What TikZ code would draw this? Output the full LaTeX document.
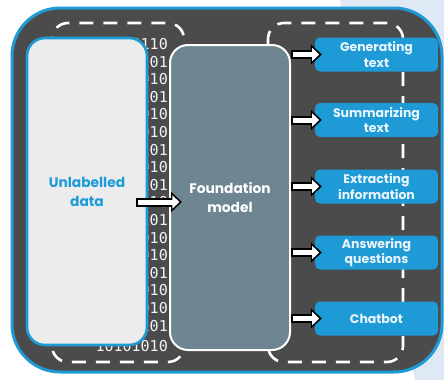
\documentclass[tikz,border=0pt]{standalone}
\usepackage{fontspec}
\setmainfont{Poppins}
\newfontfamily\digitfont{DejaVu Sans Mono}
\usetikzlibrary{arrows.meta}

\definecolor{panel}{HTML}{4B4B4B}
\definecolor{accent}{HTML}{1E9AD6}
\definecolor{paper}{HTML}{ECECEC}
\definecolor{slate}{HTML}{6E8592}
\definecolor{haze}{HTML}{DEE9F5}
\definecolor{tasktext}{HTML}{EAF5FC}
\definecolor{digit}{HTML}{F2F2F2}

\begin{document}
\begin{tikzpicture}[x=1pt,y=-1pt,
  dashframe/.style={draw=white, line width=2.6pt, dash pattern=on 14pt off 10pt, rounded corners=16pt},
  bits/.style={anchor=east, inner sep=0pt, text=digit, font=\digitfont\fontsize{15}{15}\selectfont},
  databox/.style={draw=accent, fill=paper, line width=2.6pt, rounded corners=18pt,
    minimum width=120pt, minimum height=307pt, text=accent, align=center,
    font=\bfseries\fontsize{13.8}{19}\selectfont},
  modelbox/.style={draw=white, fill=slate, line width=2pt, rounded corners=18pt,
    minimum width=120pt, minimum height=305pt, text=white, align=center,
    font=\bfseries\fontsize{13.8}{19}\selectfont},
  taskbox/.style={fill=accent, rounded corners=5pt, minimum width=123pt, minimum height=34pt,
    inner sep=0pt, text=tasktext, align=center, font=\bfseries\fontsize{12.5}{15.5}\selectfont},
  arrout/.style={draw=black, line width=9pt, -{Triangle[length=11pt,width=20pt]}},
  arrin/.style={draw=white, line width=5pt, shorten <=2pt, shorten >=2.6pt,
    -{Triangle[length=7pt,width=13pt]}}
]
\useasboundingbox (0,0) rectangle (444,380);

% soft backdrop on the right
\fill[haze] (340,0) -- (444,0) -- (444,380) -- (415,380) -- cycle;

% dark panel
\draw[fill=panel, draw=accent, line width=3pt, rounded corners=48pt] (12,8) rectangle (442,372);

% dashed frames around the data stream and the tasks
\draw[dashframe] (52,23) rectangle (184,362);
\draw[dashframe] (268,23) rectangle (403,362);

% binary stream: first and last words in full, the rest runs behind the data box
\node[bits] (bittop) at (168,44) {00000110};
\foreach \row [count=\i from 1] in {101,010,101,010,010,101,010,101,010,
    101,010,010,101,010,010,101}
  \node[bits] (bit\i) at (168, 44+17.6*\i) {\row};
\node[bits] (bitbot) at (168,346) {10101010};

% main boxes
\node[databox] (ud) at (87,191.5) {Unlabelled\\data};
\node[modelbox] (fm) at (230,197.5) {Foundation\\model};

% tasks
\node[taskbox] (t1) at (376.5,54.5) {Generating\\text};
\node[taskbox] (t2) at (376.5,120) {Summarizing\\text};
\node[taskbox] (t3) at (376.5,186.5) {Extracting\\information};
\node[taskbox] (t4) at (376.5,252.5) {Answering\\questions};
\node[taskbox] (t5) at (376.5,318.5) {Chatbot};

% data flows into the model
\draw[arrout] ([xshift=-12pt,yshift=-10.5pt]ud.east) -- ([xshift=13pt,yshift=-4.5pt]fm.west);
\draw[arrin]  ([xshift=-12pt,yshift=-10.5pt]ud.east) -- ([xshift=13pt,yshift=-4.5pt]fm.west);

% model feeds every task
\foreach \t in {t1,t2,t3,t4,t5}{
  \draw[arrout] (fm.east |- \t.west) -- ([xshift=7pt]\t.west);
  \draw[arrin]  (fm.east |- \t.west) -- ([xshift=7pt]\t.west);
}
\end{tikzpicture}
\end{document}
